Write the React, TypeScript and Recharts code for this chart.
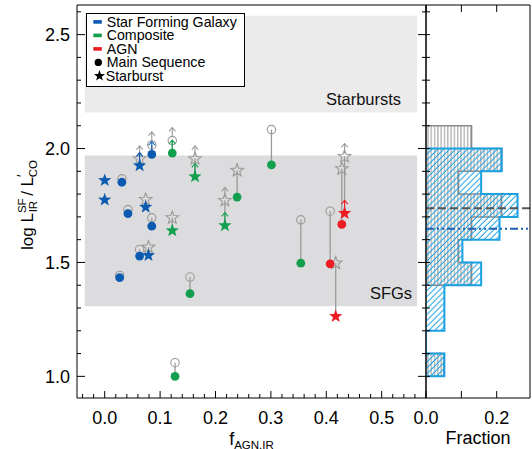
import React from 'react';
import {
  ScatterChart,
  Scatter,
  ComposedChart,
  Area,
  XAxis,
  YAxis,
  ReferenceArea,
  ReferenceLine,
} from 'recharts';

const FONT = '"Liberation Sans", Arial, Helvetica, sans-serif';

// one entry per galaxy
const fAgnIR = [0.0, 0.0, 0.031, 0.042, 0.063, 0.085, 0.074, 0.085, 0.063, 0.079, 0.122, 0.163, 0.122, 0.217, 0.239, 0.027, 0.154, 0.127, 0.301, 0.354, 0.407, 0.417, 0.428, 0.433];
const ratioSF = [1.86, 1.775, 1.852, 1.714, 1.925, 1.974, 1.743, 1.659, 1.528, 1.531, 1.98, 1.877, 1.64, 1.662, 1.787, 1.433, 1.363, 1.0, 1.928, 1.497, 1.494, 1.263, 1.667, 1.716];
const ratioTot = [null, null, 1.867, 1.732, 1.955, 2.016, 1.776, 1.696, 1.557, 1.567, 2.035, 1.955, 1.696, 1.772, 1.904, 1.443, 1.436, 1.06, 2.083, 1.687, 1.725, 1.497, 1.911, 1.965];
const galaxyType = ['SFG', 'SFG', 'SFG', 'SFG', 'SFG', 'SFG', 'SFG', 'SFG', 'SFG', 'SFG', 'Comp', 'Comp', 'Comp', 'Comp', 'Comp', 'SFG', 'Comp', 'Comp', 'Comp', 'Comp', 'AGN', 'AGN', 'AGN', 'AGN'];
const starburstSF = [1, 1, 0, 0, 1, 0, 1, 0, 0, 1, 0, 1, 1, 1, 0, 0, 0, 0, 0, 0, 0, 1, 0, 1];
const starburstTot = [1, 1, 0, 0, 1, 0, 1, 0, 0, 1, 0, 1, 1, 1, 1, 0, 0, 0, 0, 0, 0, 1, 1, 1];
const lowerLimit = [0, 0, 0, 0, 1, 1, 0, 0, 0, 0, 1, 1, 0, 1, 0, 0, 0, 0, 0, 0, 0, 0, 0, 1];

// histogram of the right panel, bins from the top down
const binEdges = [2.1, 2.0, 1.9, 1.8, 1.7, 1.6, 1.5, 1.4, 1.3, 1.2, 1.1, 1.0];
const fracTot = [0.129, 0.214, 0.092, 0.214, 0.129, 0.092, 0.129, 0, 0, 0, 0.05];
const fracSF = [0, 0.214, 0.156, 0.259, 0.208, 0.103, 0.156, 0.052, 0.052, 0, 0.052];
const medianTot = 1.738;
const medianSF = 1.648;

// shaded regions
const bandX = [-0.036, 0.564];
const starburstBand = [2.158, 2.583];
const sfgBand = [1.308, 1.969];

const xTicks = [-0.04, -0.02, 0, 0.02, 0.04, 0.06, 0.08, 0.1, 0.12, 0.14, 0.16, 0.18, 0.2, 0.22, 0.24, 0.26, 0.28, 0.3, 0.32, 0.34, 0.36, 0.38, 0.4, 0.42, 0.44, 0.46, 0.48, 0.5, 0.52, 0.54, 0.56];
const yTicks = [1.0, 1.1, 1.2, 1.3, 1.4, 1.5, 1.6, 1.7, 1.8, 1.9, 2.0, 2.1, 2.2, 2.3, 2.4, 2.5, 2.6];
const histXTicks = [0, 0.1, 0.2];
const histXLabels = ['0.0', '', '0.2'];

const X_DOMAIN: [number, number] = [-0.05, 0.58];
const Y_DOMAIN: [number, number] = [0.905, 2.63];
const H_DOMAIN: [number, number] = [0, 0.2942];

const COLORS: Record<string, string> = { SFG: '#0d5bb0', Comp: '#12a04e', AGN: '#ed1c24' };
const GREY = '#9a9a9a';
const HIST_BLUE = '#1ba1e2';

const isStep = (v: number, step: number) => Math.abs(v / step - Math.round(v / step)) < 1e-6;

function starPath(cx: number, cy: number, R: number, r: number) {
  let d = '';
  for (let i = 0; i < 10; i++) {
    const a = -Math.PI / 2 + (i * Math.PI) / 5;
    const rad = i % 2 === 0 ? R : r;
    d += (i === 0 ? 'M' : 'L') + (cx + rad * Math.cos(a)).toFixed(2) + ',' + (cy + rad * Math.sin(a)).toFixed(2);
  }
  return d + 'Z';
}

const Arrow = ({ cx, cy, color, from }: any) => (
  <g stroke={color} strokeWidth={1.1} fill="none">
    <line x1={cx} y1={cy - from} x2={cx} y2={cy - 13} />
    <polyline points={`${cx - 3.2},${cy - 9.2} ${cx},${cy - 13} ${cx + 3.2},${cy - 9.2}`} />
  </g>
);

const OpenMarker = (props: any) => {
  const { cx, cy, payload } = props;
  if (cx == null || cy == null) return null;
  return (
    <g>
      {payload.star ? (
        <path d={starPath(cx, cy, 6.6, 2.8)} fill="none" stroke={GREY} strokeWidth={1.1} />
      ) : (
        <circle cx={cx} cy={cy} r={4.2} fill="none" stroke={GREY} strokeWidth={1.1} />
      )}
      {payload.lim ? <Arrow cx={cx} cy={cy} color={GREY} from={payload.star ? 3 : 4.2} /> : null}
    </g>
  );
};

const FilledMarker = (props: any) => {
  const { cx, cy, payload } = props;
  if (cx == null || cy == null) return null;
  const c = COLORS[payload.type];
  return (
    <g>
      {payload.lim ? <Arrow cx={cx} cy={cy} color={c} from={0} /> : null}
      {payload.star ? (
        <path d={starPath(cx, cy, 7, 2.9)} fill={c} stroke="none" />
      ) : (
        <circle cx={cx} cy={cy} r={4.4} fill={c} />
      )}
    </g>
  );
};

// ticks point inwards, labels sit outside
const BottomTick = (props: any) => {
  const { x, y, payload } = props;
  const major = isStep(payload.value, 0.1);
  return (
    <g>
      <line x1={x} x2={x} y1={y} y2={y - (major ? 7 : 4)} stroke="#000" />
      {major ? (
        <text x={x} y={y + 26} textAnchor="middle" fontSize={18} fontFamily={FONT} fill="#000">
          {payload.value.toFixed(1)}
        </text>
      ) : null}
    </g>
  );
};

const TopTick = (props: any) => {
  const { x, y, payload } = props;
  const major = isStep(payload.value, 0.1);
  return <line x1={x} x2={x} y1={y} y2={y + (major ? 7 : 4)} stroke="#000" />;
};

const LeftTick = (props: any) => {
  const { x, y, payload } = props;
  const major = isStep(payload.value, 0.5);
  return (
    <g>
      <line x1={x} x2={x + (major ? 8 : 4)} y1={y} y2={y} stroke="#000" />
      {major ? (
        <text x={x - 7} y={y + 6.5} textAnchor="end" fontSize={18} fontFamily={FONT} fill="#000">
          {payload.value.toFixed(1)}
        </text>
      ) : null}
    </g>
  );
};

const RightTick = (props: any) => {
  const { x, y, payload } = props;
  const major = isStep(payload.value, 0.5);
  return <line x1={x} x2={x - (major ? 8 : 4)} y1={y} y2={y} stroke="#000" />;
};

const HistLeftTick = (props: any) => {
  const { x, y } = props;
  return <line x1={x} x2={x + 4} y1={y} y2={y} stroke="#000" />;
};

const HistRightTick = (props: any) => {
  const { x, y } = props;
  return <line x1={x} x2={x - 4} y1={y} y2={y} stroke="#000" />;
};

const HistBottomTick = (props: any) => {
  const { x, y, index } = props;
  return (
    <g>
      <line x1={x} x2={x} y1={y} y2={y - 7} stroke="#000" />
      <text x={x} y={y + 26} textAnchor="middle" fontSize={18} fontFamily={FONT} fill="#000">
        {histXLabels[index]}
      </text>
    </g>
  );
};

const HistTopTick = (props: any) => {
  const { x, y } = props;
  return <line x1={x} x2={x} y1={y} y2={y + 7} stroke="#000" />;
};

const XTitle = (props: any) => {
  const vb = props.viewBox || { x: 77, y: 398, width: 349 };
  return (
    <text x={vb.x + vb.width / 2} y={vb.y + 47} textAnchor="middle" fontFamily={FONT} fontSize={18} fill="#000">
      f
      <tspan fontSize={11.5} dy={3.5}>AGN,IR</tspan>
    </text>
  );
};

const YTitle = () => {
  const cx = 33;
  const cy = 205;
  return (
    <text x={cx} y={cy} transform={`rotate(-90 ${cx} ${cy})`} textAnchor="middle" fontFamily={FONT} fontSize={17} fill="#000">
      log L
      <tspan fontSize={11.5} dy={-7.5}>SF</tspan>
      <tspan fontSize={11.5} dx={-14} dy={11.5}>IR</tspan>
      <tspan dx={5} dy={-4}>/ L</tspan>
      <tspan fontSize={14} dy={-6}>′</tspan>
      <tspan fontSize={11.5} dx={-3} dy={10}>CO</tspan>
    </text>
  );
};

const FractionTitle = (props: any) => {
  const vb = props.viewBox || { x: 26, y: 398, width: 104 };
  return (
    <text x={vb.x + vb.width / 2} y={vb.y + 46} textAnchor="middle" fontFamily={FONT} fontSize={18} fill="#000">
      Fraction
    </text>
  );
};

const bandLabel = (text: string, dx: number, dy: number) => (props: any) => {
  const vb = props.viewBox;
  if (!vb) return null;
  return (
    <text x={vb.x + vb.width - dx} y={vb.y + vb.height - dy} textAnchor="end" fontFamily={FONT} fontSize={16.5} fill="#111">
      {text}
    </text>
  );
};

function stepPoints(fr: number[]) {
  const start = fr.findIndex((v) => v > 0);
  const pts = [{ edge: binEdges[start], f: 0 }];
  for (let i = start; i < fr.length; i++) pts.push({ edge: binEdges[i], f: fr[i] });
  pts.push({ edge: binEdges[fr.length], f: 0 });
  return pts;
}

const filledData = fAgnIR.map((x, i) => ({
  x,
  y: ratioSF[i],
  type: galaxyType[i],
  star: starburstSF[i] === 1,
  lim: lowerLimit[i] === 1,
}));

const openData = fAgnIR
  .map((x, i) => ({ x, y: ratioTot[i], ySF: ratioSF[i], star: starburstTot[i] === 1, lim: lowerLimit[i] === 1 }))
  .filter((d) => d.y !== null);

const legendRows = [
  { label: 'Star Forming Galaxy', kind: 'bar', color: COLORS.SFG },
  { label: 'Composite', kind: 'bar', color: COLORS.Comp },
  { label: 'AGN', kind: 'bar', color: COLORS.AGN },
  { label: 'Main Sequence', kind: 'circle', color: '#000' },
  { label: 'Starburst', kind: 'star', color: '#000' },
];

const LegendBox = () => (
  <svg width={159} height={74} style={{ position: 'absolute', left: 86, top: 13 }}>
    <rect x={0.5} y={0.5} width={158} height={73} fill="#fff" stroke="#000" strokeWidth={1} />
    {legendRows.map((r, i) => {
      const cy = 8.9 + i * 13.5;
      return (
        <g key={r.label}>
          {r.kind === 'bar' ? <rect x={7.3} y={cy - 1.8} width={8.5} height={3.6} fill={r.color} /> : null}
          {r.kind === 'circle' ? <circle cx={12.3} cy={cy} r={3.7} fill={r.color} /> : null}
          {r.kind === 'star' ? <path d={starPath(13.5, cy, 5.8, 2.4)} fill={r.color} /> : null}
          <text x={r.kind === 'star' ? 19.7 : 20.7} y={cy + 5} fontFamily={FONT} fontSize={14.2} fill="#000">
            {r.label}
          </text>
        </g>
      );
    })}
  </svg>
);

export default function App() {
  return (
    <div style={{ position: 'absolute', left: 0, top: 0, width: 532, height: 449, background: '#fff' }}>
      <div style={{ position: 'absolute', left: 0, top: 0 }}>
        <ScatterChart width={440} height={449} margin={{ top: 0, right: 0, bottom: 0, left: 0 }}>
          <XAxis
            type="number"
            dataKey="x"
            domain={X_DOMAIN}
            ticks={xTicks}
            interval={0}
            allowDataOverflow
            height={51}
            tickSize={0}
            tickMargin={0}
            tickLine={false}
            axisLine={{ stroke: '#000' }}
            tick={<BottomTick />}
            label={<XTitle />}
          />
          <XAxis
            xAxisId="top"
            orientation="top"
            type="number"
            domain={X_DOMAIN}
            ticks={xTicks}
            interval={0}
            allowDataOverflow
            height={5}
            tickSize={0}
            tickMargin={0}
            tickLine={false}
            axisLine={{ stroke: '#000' }}
            tick={<TopTick />}
          />
          <YAxis
            type="number"
            dataKey="y"
            domain={Y_DOMAIN}
            ticks={yTicks}
            interval={0}
            allowDataOverflow
            width={77}
            tickSize={0}
            tickMargin={0}
            tickLine={false}
            axisLine={{ stroke: '#000' }}
            tick={<LeftTick />}
            label={<YTitle />}
          />
          <YAxis
            yAxisId="right"
            orientation="right"
            type="number"
            domain={Y_DOMAIN}
            ticks={yTicks}
            interval={0}
            allowDataOverflow
            width={14}
            tickSize={0}
            tickMargin={0}
            tickLine={false}
            axisLine={{ stroke: '#000' }}
            tick={<RightTick />}
          />
          <ReferenceArea
            x1={bandX[0]}
            x2={bandX[1]}
            y1={starburstBand[0]}
            y2={starburstBand[1]}
            fill="#ebebec"
            fillOpacity={1}
            stroke="none"
            label={bandLabel('Starbursts', 16, 8)}
          />
          <ReferenceArea
            x1={bandX[0]}
            x2={bandX[1]}
            y1={sfgBand[0]}
            y2={sfgBand[1]}
            fill="#dcdcde"
            fillOpacity={1}
            stroke="none"
            label={bandLabel('SFGs', 5, 7)}
          />
          {openData.map((d) => (
            <ReferenceLine
              key={`seg-${d.x}-${d.y}`}
              segment={[
                { x: d.x, y: d.ySF },
                { x: d.x, y: d.y },
              ]}
              stroke={GREY}
              strokeWidth={1.3}
            />
          ))}
          <Scatter data={openData} shape={<OpenMarker />} isAnimationActive={false} />
          <Scatter data={filledData} shape={<FilledMarker />} isAnimationActive={false} />
        </ScatterChart>
      </div>

      <div style={{ position: 'absolute', left: 400, top: 0 }}>
        <ComposedChart layout="vertical" width={132} height={449} margin={{ top: 0, right: 0, bottom: 0, left: 0 }}>
          <defs>
            <pattern id="vhatch" width={3.3} height={6} patternUnits="userSpaceOnUse">
              <line x1={1.6} y1={0} x2={1.6} y2={6} stroke="#8c8c8c" strokeWidth={0.9} />
            </pattern>
            <pattern id="dhatch" width={4.2} height={6} patternUnits="userSpaceOnUse" patternTransform="rotate(45)">
              <line x1={2} y1={0} x2={2} y2={6} stroke={HIST_BLUE} strokeWidth={1} />
            </pattern>
          </defs>
          <XAxis
            xAxisId="b"
            type="number"
            domain={H_DOMAIN}
            ticks={histXTicks}
            interval={0}
            allowDataOverflow
            height={51}
            tickSize={0}
            tickMargin={0}
            tickLine={false}
            axisLine={{ stroke: '#000' }}
            tick={<HistBottomTick />}
            label={<FractionTitle />}
          />
          <XAxis
            xAxisId="t"
            orientation="top"
            type="number"
            domain={H_DOMAIN}
            ticks={histXTicks}
            interval={0}
            allowDataOverflow
            height={5}
            tickSize={0}
            tickMargin={0}
            tickLine={false}
            axisLine={{ stroke: '#000' }}
            tick={<HistTopTick />}
          />
          <YAxis
            yAxisId="l"
            type="number"
            dataKey="edge"
            domain={Y_DOMAIN}
            reversed
            ticks={yTicks}
            interval={0}
            allowDataOverflow
            width={26}
            tickSize={0}
            tickMargin={0}
            tickLine={false}
            axisLine={{ stroke: '#000' }}
            tick={<HistLeftTick />}
          />
          <YAxis
            yAxisId="r"
            orientation="right"
            type="number"
            domain={Y_DOMAIN}
            reversed
            ticks={yTicks}
            interval={0}
            allowDataOverflow
            width={2}
            tickSize={0}
            tickMargin={0}
            tickLine={false}
            axisLine={{ stroke: '#000' }}
            tick={<HistRightTick />}
          />
          <Area
            data={stepPoints(fracTot)}
            dataKey="f"
            xAxisId="b"
            yAxisId="l"
            type="stepBefore"
            stroke="#8c8c8c"
            strokeWidth={1.5}
            fill="url(#vhatch)"
            fillOpacity={1}
            dot={false}
            activeDot={false}
            isAnimationActive={false}
          />
          <Area
            data={stepPoints(fracSF)}
            dataKey="f"
            xAxisId="b"
            yAxisId="l"
            type="stepBefore"
            stroke={HIST_BLUE}
            strokeWidth={2}
            fill="url(#dhatch)"
            fillOpacity={1}
            dot={false}
            activeDot={false}
            isAnimationActive={false}
          />
          <ReferenceLine xAxisId="b" yAxisId="l" y={medianTot} stroke="#555" strokeWidth={2} strokeDasharray="8 4" />
          <ReferenceLine xAxisId="b" yAxisId="l" y={medianSF} stroke="#1f5fb4" strokeWidth={2} strokeDasharray="8 3 2 3 2 3" />
        </ComposedChart>
      </div>

      <LegendBox />
    </div>
  );
}
